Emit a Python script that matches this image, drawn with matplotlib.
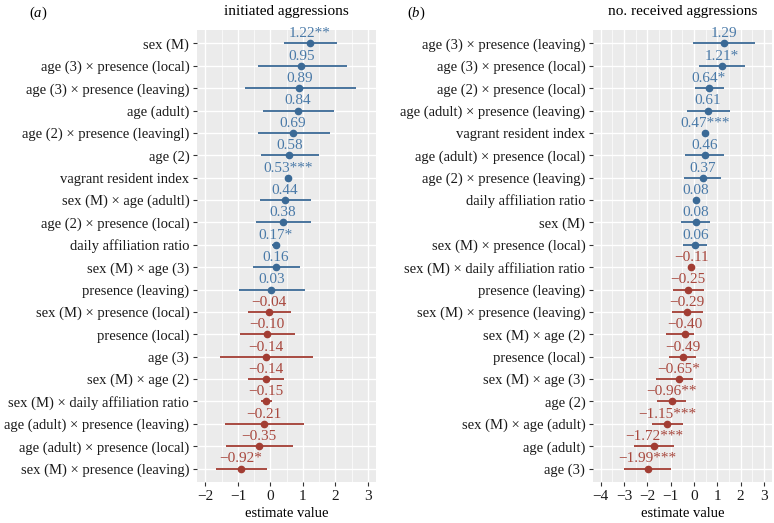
import matplotlib
matplotlib.use("Agg")
import matplotlib.pyplot as plt
import numpy as np

plt.rcParams['font.family'] = ['Liberation Serif', 'DejaVu Serif']
plt.rcParams['mathtext.fontset'] = 'custom'
plt.rcParams['mathtext.rm'] = 'Liberation Serif'
plt.rcParams['mathtext.it'] = 'Liberation Serif:italic'

# ---- panel (a) data: top to bottom ----
labels_a = ["sex (M)", "age (3) × presence (local)", "age (3) × presence (leaving)",
            "age (adult)", "age (2) × presence (leavingl)", "age (2)",
            "vagrant resident index", "sex (M) × age (adultl)",
            "age (2) × presence (local)", "daily affiliation ratio",
            "sex (M) × age (3)", "presence (leaving)", "sex (M) × presence (local)",
            "presence (local)", "age (3)", "sex (M) × age (2)",
            "sex (M) × daily affiliation ratio", "age (adult) × presence (leaving)",
            "age (adult) × presence (local)", "sex (M) × presence (leaving)"]
est_a = [1.22, 0.95, 0.89, 0.84, 0.69, 0.58, 0.53, 0.44, 0.38, 0.17,
         0.16, 0.03, -0.04, -0.10, -0.14, -0.14, -0.15, -0.21, -0.35, -0.92]
lo_a = [0.43, -0.38, -0.79, -0.23, -0.38, -0.29, 0.46, -0.31, -0.43, 0.06,
        -0.54, -0.97, -0.68, -0.93, -1.55, -0.68, -0.29, -1.41, -1.36, -1.69]
hi_a = [2.06, 2.35, 2.64, 1.97, 1.83, 1.51, 0.60, 1.24, 1.26, 0.28,
        0.90, 1.05, 0.63, 0.75, 1.32, 0.43, 0.04, 1.02, 0.70, -0.12]
stars_a = ["**", "", "", "", "", "", "***", "", "", "*",
           "", "", "", "", "", "", "", "", "", "*"]

# ---- panel (b) data: top to bottom ----
labels_b = ["age (3) × presence (leaving)", "age (3) × presence (local)",
            "age (2) × presence (local)", "age (adult) × presence (leaving)",
            "vagrant resident index", "age (adult) × presence (local)",
            "age (2) × presence (leaving)", "daily affiliation ratio", "sex (M)",
            "sex (M) × presence (local)", "sex (M) × daily affiliation ratio",
            "presence (leaving)", "sex (M) × presence (leaving)", "sex (M) × age (2)",
            "presence (local)", "sex (M) × age (3)", "age (2)",
            "sex (M) × age (adult)", "age (adult)", "age (3)"]
est_b = [1.29, 1.21, 0.64, 0.61, 0.47, 0.46, 0.37, 0.08, 0.08, 0.06,
         -0.11, -0.25, -0.29, -0.40, -0.49, -0.65, -0.96, -1.15, -1.72, -1.99]
lo_b = [-0.03, 0.23, 0.03, -0.31, 0.40, -0.37, -0.43, 0.02, -0.54, -0.49,
        -0.25, -0.91, -0.94, -1.20, -1.06, -1.64, -1.59, -1.80, -2.57, -3.00]
hi_b = [2.63, 2.20, 1.27, 1.54, 0.54, 1.30, 1.17, 0.14, 0.71, 0.57,
        0.03, 0.43, 0.37, 0.00, 0.09, -0.06, -0.34, -0.49, -0.87, -0.99]
stars_b = ["", "*", "*", "", "***", "", "", "", "", "",
           "", "", "", "", "", "*", "**", "***", "***", "***"]

BLUE = "#3b6a96"
BLUE_T = "#4a7aa8"
RED = "#a23d33"
RED_T = "#a8483e"
BG = "#ebebeb"
FS = 10.5

fig = plt.figure(figsize=(7.74, 5.23), dpi=100)

def fmt(v):
    s = f"{abs(v):.2f}"
    return ("\u2212" + s) if v < 0 else s

def fmt_int(t):
    return ("\u2212" + str(abs(int(t)))) if t < 0 else str(int(t))

def panel(ax, labels, est, lo, hi, stars, xlim, xticks, title):
    n = len(labels)
    ypos = np.arange(n)[::-1]
    ax.set_facecolor(BG)
    ax.set_xlim(*xlim)
    ax.set_ylim(-0.6, n - 0.4)
    minor = np.arange(np.floor(xlim[0]) - 0.5, xlim[1] + 0.5, 1.0)
    for m in minor:
        ax.axvline(m, color="white", lw=0.5, zorder=0)
    for t in xticks:
        ax.axvline(t, color="white", lw=1.0, zorder=0)
    for y in ypos:
        ax.axhline(y, color="white", lw=1.0, zorder=0)
    for y, e, l, h, s in zip(ypos, est, lo, hi, stars):
        c = BLUE if e >= 0 else RED
        tc = BLUE_T if e >= 0 else RED_T
        ax.plot([l, h], [y, y], color=c, lw=1.3, zorder=2, solid_capstyle="butt")
        ax.plot([e], [y], "o", color=c, ms=4.5, zorder=3)
        ax.text(e, y + 0.14, fmt(e) + s, ha="center", va="bottom",
                color=tc, fontsize=FS + 0.5, zorder=4)
    ax.set_yticks(ypos)
    ax.set_yticklabels(labels, fontsize=FS)
    ax.set_xticks(xticks)
    ax.set_xticklabels([fmt_int(t) for t in xticks], fontsize=FS + 0.5)
    for sp in ax.spines.values():
        sp.set_visible(False)
    ax.tick_params(axis="both", length=3, color="#333333", width=0.8, pad=2.5,
                   labelcolor="#1a1a1a")
    ax.set_xlabel("estimate value", fontsize=FS, labelpad=3)
    ax.set_title(title, fontsize=FS + 0.5, pad=11)

ax1 = fig.add_axes([197/774, 1 - 482/523, 179/774, 452/523])
panel(ax1, labels_a, est_a, lo_a, hi_a, stars_a, (-2.26, 3.25),
      [-2, -1, 0, 1, 2, 3], "initiated aggressions")

ax2 = fig.add_axes([593/774, 1 - 482/523, 179/774, 452/523])
panel(ax2, labels_b, est_b, lo_b, hi_b, stars_b, (-4.33, 3.35),
      [-4, -3, -2, -1, 0, 1, 2, 3], "no. received aggressions")

fig.text(38/774, 1 - 13/523, "($\\it{a}$)", ha="center", va="center", fontsize=FS)
fig.text(416/774, 1 - 13/523, "($\\it{b}$)", ha="center", va="center", fontsize=FS)

fig.savefig("out.png", dpi=100)
